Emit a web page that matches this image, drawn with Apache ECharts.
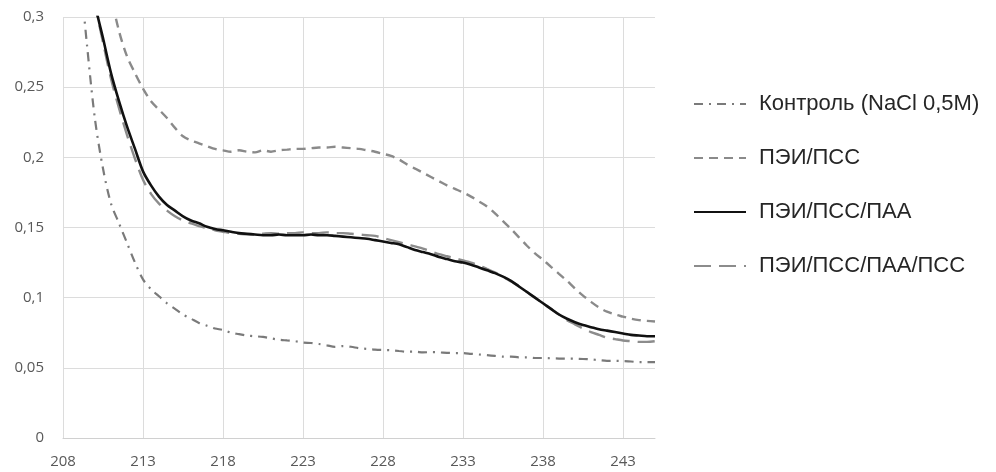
<!DOCTYPE html>
<html>
<head>
<meta charset="utf-8">
<script src="https://cdn.jsdelivr.net/npm/echarts@6/dist/echarts.min.js"></script>
<style>
  html, body { margin: 0; padding: 0; background: #fff; }
  #chart { width: 996px; height: 472px; }
</style>
</head>
<body>
<div id="chart"></div>
<script>
// Wavelength, nm (0.5 nm step)
const wavelength = [];
for (let w = 209; w <= 245; w += 0.5) wavelength.push(w);

// Optical density for each sample
const control = [
  0.34, 0.28, 0.227, 0.192, 0.167, 0.153, 0.139, 0.125, 0.113, 0.106,
  0.101, 0.096, 0.092, 0.088, 0.085, 0.082, 0.080, 0.078, 0.077, 0.075,
  0.074, 0.073, 0.0725, 0.072, 0.071, 0.070, 0.0695, 0.069, 0.068, 0.0677,
  0.067, 0.066, 0.065, 0.0655, 0.065, 0.064, 0.0635, 0.063, 0.0627, 0.0625,
  0.062, 0.0615, 0.0615, 0.061, 0.0612, 0.061, 0.0607, 0.0605, 0.0605, 0.060,
  0.0595, 0.059, 0.0585, 0.058, 0.058, 0.0575, 0.0575, 0.057, 0.057, 0.0568,
  0.0566, 0.0565, 0.0565, 0.0563, 0.056, 0.0555, 0.055, 0.055, 0.0548, 0.0545,
  0.054, 0.054, 0.054
];
const peiPss = [
  0.50, 0.44, 0.39, 0.345, 0.315, 0.29, 0.272, 0.26, 0.249, 0.24,
  0.234, 0.228, 0.221, 0.215, 0.212, 0.210, 0.208, 0.206, 0.205, 0.204,
  0.205, 0.204, 0.2035, 0.205, 0.204, 0.205, 0.2055, 0.206, 0.206, 0.2065,
  0.207, 0.207, 0.2075, 0.207, 0.2065, 0.206, 0.205, 0.204, 0.2025, 0.201,
  0.1985, 0.195, 0.192, 0.189, 0.186, 0.183, 0.180, 0.1775, 0.175, 0.172,
  0.1685, 0.165, 0.160, 0.1545, 0.149, 0.143, 0.137, 0.1315, 0.127, 0.122,
  0.117, 0.112, 0.1065, 0.1015, 0.097, 0.093, 0.090, 0.088, 0.0865, 0.085,
  0.084, 0.0835, 0.083
];
const peiPssPaa = [
  0.40, 0.36, 0.31, 0.285, 0.26, 0.24, 0.222, 0.206, 0.190, 0.180,
  0.172, 0.166, 0.162, 0.158, 0.155, 0.153, 0.1505, 0.149, 0.148, 0.147,
  0.146, 0.1455, 0.145, 0.1445, 0.1445, 0.145, 0.1445, 0.1445, 0.1445, 0.145,
  0.1445, 0.1445, 0.144, 0.1435, 0.143, 0.1425, 0.142, 0.141, 0.140, 0.139,
  0.138, 0.136, 0.134, 0.1325, 0.131, 0.129, 0.1275, 0.126, 0.125, 0.1235,
  0.1215, 0.1195, 0.1175, 0.115, 0.112, 0.108, 0.104, 0.100, 0.096, 0.092,
  0.088, 0.085, 0.0825, 0.0805, 0.079, 0.0775, 0.0765, 0.0755, 0.0745, 0.0735,
  0.073, 0.0725, 0.0725
];
const peiPssPaaPss = [
  0.40, 0.355, 0.31, 0.282, 0.256, 0.235, 0.216, 0.199, 0.184, 0.174,
  0.167, 0.162, 0.158, 0.155, 0.153, 0.151, 0.1495, 0.148, 0.147, 0.146,
  0.1455, 0.145, 0.145, 0.1455, 0.146, 0.1455, 0.146, 0.146, 0.1465, 0.146,
  0.146, 0.1465, 0.146, 0.146, 0.1455, 0.145, 0.1445, 0.144, 0.1425, 0.141,
  0.1395, 0.138, 0.1365, 0.135, 0.133, 0.131, 0.1295, 0.128, 0.1265, 0.125,
  0.123, 0.1205, 0.118, 0.115, 0.1115, 0.108, 0.104, 0.100, 0.096, 0.092,
  0.088, 0.084, 0.081, 0.078, 0.0755, 0.0735, 0.0715, 0.0705, 0.0695, 0.069,
  0.0685, 0.0685, 0.069
];

const seriesNames = [
  'Контроль (NaCl 0,5M)',
  'ПЭИ/ПСС',
  'ПЭИ/ПСС/ПАА',
  'ПЭИ/ПСС/ПАА/ПСС'
];

const pairs = vals => wavelength.map((w, i) => [w, vals[i]]);

const chart = echarts.init(document.getElementById('chart'), null, { renderer: 'canvas' });

const axisFont = { color: '#595959', fontSize: 15, fontFamily: 'Open Sans, sans-serif' };

chart.setOption({
  backgroundColor: '#ffffff',
  animation: false,
  grid: { left: 63, right: 341, top: 17, bottom: 34, containLabel: false },
  legend: {
    orient: 'vertical',
    left: 688,
    top: 88,
    itemWidth: 52,
    itemHeight: 20,
    itemGap: 32,
    itemStyle: { opacity: 0 },
    textStyle: { color: '#262626', fontSize: 22, fontFamily: 'Liberation Sans, Arial, sans-serif', padding: [0, 0, 0, 8] },
    data: seriesNames
  },
  xAxis: {
    type: 'value',
    min: 208,
    max: 245,
    interval: 5,
    axisLine: { show: true, lineStyle: { color: '#d0d0d0', width: 1 } },
    axisTick: { show: false },
    axisLabel: Object.assign({ margin: 16, showMaxLabel: false }, axisFont),
    splitLine: { show: true, showMaxLine: false, lineStyle: { color: '#dcdcdc', width: 1 } }
  },
  yAxis: {
    type: 'value',
    min: 0,
    max: 0.3,
    interval: 0.05,
    axisLine: { show: false },
    axisTick: { show: false },
    axisLabel: Object.assign({
      margin: 19,
      formatter: v => String(+v.toFixed(2)).replace('.', ',')
    }, axisFont),
    splitLine: { show: true, lineStyle: { color: '#dcdcdc', width: 1 } }
  },
  series: [
    {
      name: seriesNames[0], type: 'line', data: pairs(control),
      showSymbol: false, symbol: 'none', smooth: 0.3, clip: true,
      lineStyle: { color: '#7a7a7a', width: 2.2, type: [9, 6, 2, 6] },
      itemStyle: { color: '#7a7a7a' }
    },
    {
      name: seriesNames[1], type: 'line', data: pairs(peiPss),
      showSymbol: false, symbol: 'none', smooth: 0.3, clip: true,
      lineStyle: { color: '#8a8a8a', width: 2.4, type: [9, 6] },
      itemStyle: { color: '#8a8a8a' }
    },
    {
      name: seriesNames[2], type: 'line', data: pairs(peiPssPaa),
      showSymbol: false, symbol: 'none', smooth: 0.3, clip: true, z: 5,
      lineStyle: { color: '#111111', width: 2.6, type: 'solid' },
      itemStyle: { color: '#111111' }
    },
    {
      name: seriesNames[3], type: 'line', data: pairs(peiPssPaaPss),
      showSymbol: false, symbol: 'none', smooth: 0.3, clip: true,
      lineStyle: { color: '#8c8c8c', width: 2.4, type: [17, 8] },
      itemStyle: { color: '#8c8c8c' }
    }
  ]
});
</script>
</body>
</html>
